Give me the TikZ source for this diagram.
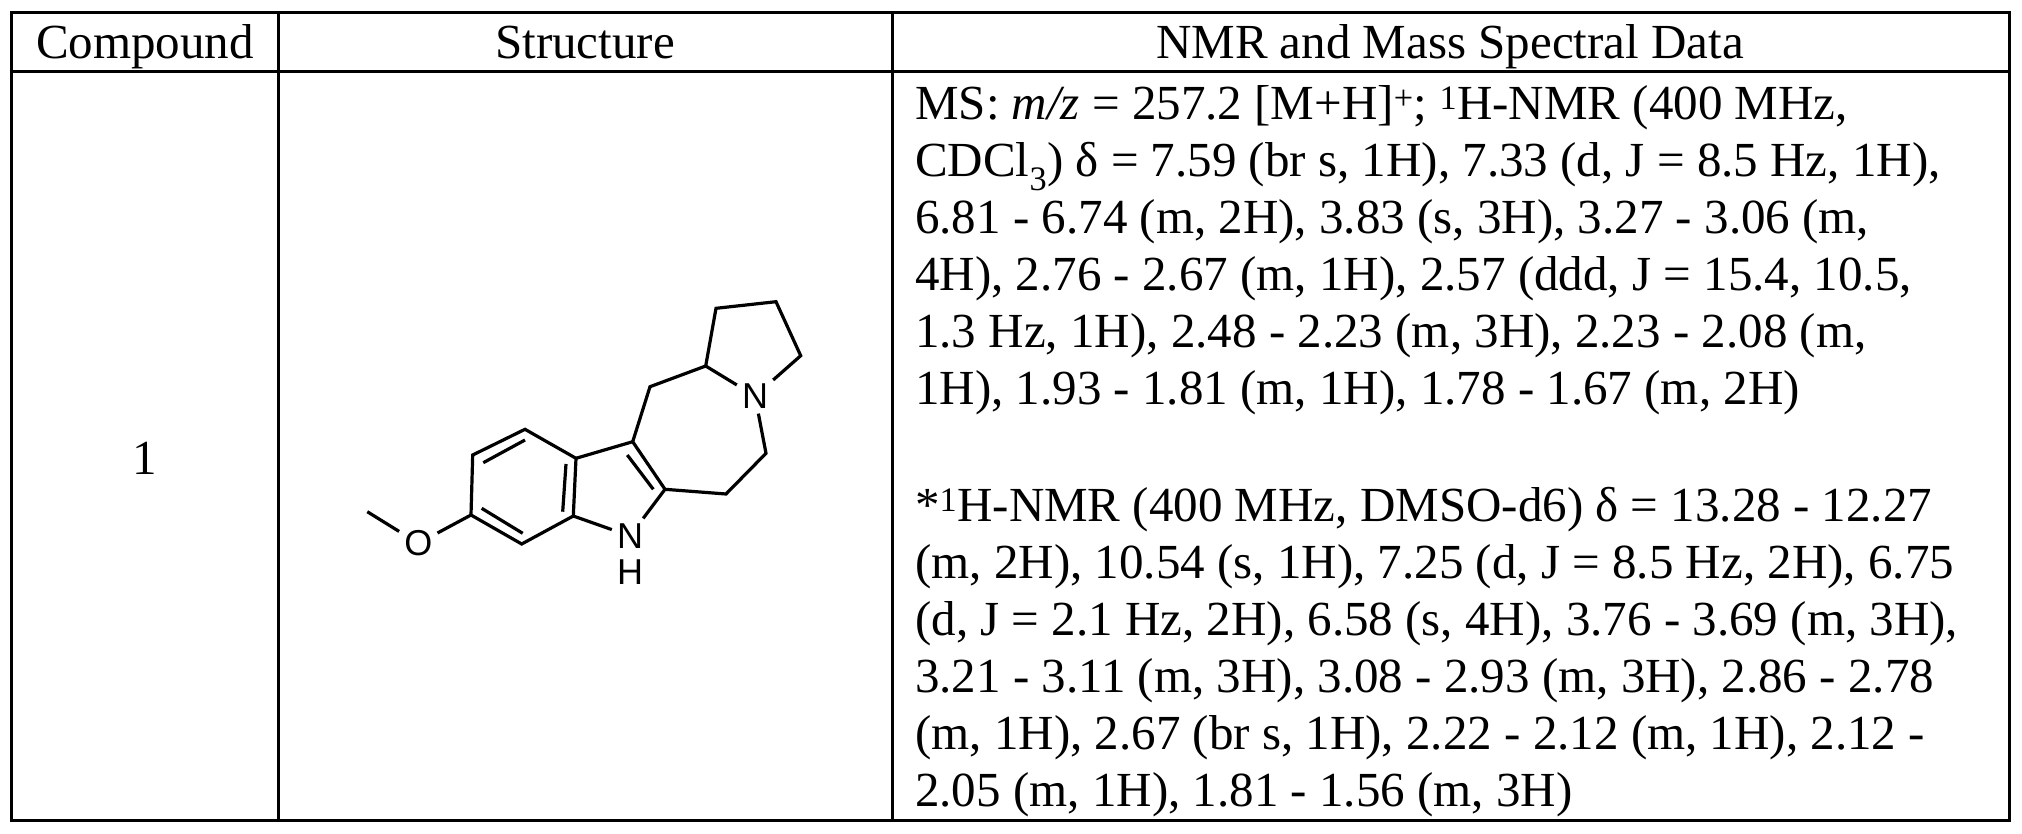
\documentclass[tikz,border=0pt]{standalone}
\usepackage{fontspec}
\setmainfont{Liberation Serif}
\newfontfamily\chemfont{Liberation Sans}
\tikzset{
  grid/.style={line width=3pt},
  bond/.style={line width=3.2pt},
  txt/.style={anchor=base west, inner sep=0pt, font=\fontsize{49}{57}\selectfont},
  hdr/.style={anchor=base, inner sep=0pt, font=\fontsize{49}{57}\selectfont},
  atom/.style={font=\chemfont\fontsize{36}{36}\selectfont, inner sep=5pt}
}
\begin{document}
\begin{tikzpicture}[x=1pt,y=-1pt]
\useasboundingbox (0,0) rectangle (2022,833);
% table
\draw[grid] (11.5,12) rectangle (2009,820);
\draw[grid] (11.5,71) -- (2009,71);
\draw[grid] (278,12) -- (278,820);
\draw[grid] (892,12) -- (892,820);
\node[hdr] (h1) at (145,58) {Compound};
\node[hdr] (h2) at (585,58) {Structure};
\node[hdr] (h3) at (1450,58) {NMR and Mass Spectral Data};
\node[hdr] (c1) at (145,474) {1};
% data
\node[txt] (l1) at (915,119) {MS: \textit{m/z} = 257.2 [M+H]\textsuperscript{+}; \textsuperscript{1}H-NMR (400 MHz,};
\node[txt] (l2) at (915,176) {CDCl\textsubscript{3}) δ = 7.59 (br s, 1H), 7.33 (d, J = 8.5 Hz, 1H),};
\node[txt] (l3) at (915,233) {6.81 - 6.74 (m, 2H), 3.83 (s, 3H), 3.27 - 3.06 (m,};
\node[txt] (l4) at (915,290) {4H), 2.76 - 2.67 (m, 1H), 2.57 (ddd, J = 15.4, 10.5,};
\node[txt] (l5) at (915,347) {1.3 Hz, 1H), 2.48 - 2.23 (m, 3H), 2.23 - 2.08 (m,};
\node[txt] (l6) at (915,404) {1H), 1.93 - 1.81 (m, 1H), 1.78 - 1.67 (m, 2H)};
\node[txt] (l8) at (915,521) {*\textsuperscript{1}H-NMR (400 MHz, DMSO-d6) δ = 13.28 - 12.27};
\node[txt] (l9) at (915,578) {(m, 2H), 10.54 (s, 1H), 7.25 (d, J = 8.5 Hz, 2H), 6.75};
\node[txt] (l10) at (915,635) {(d, J = 2.1 Hz, 2H), 6.58 (s, 4H), 3.76 - 3.69 (m, 3H),};
\node[txt] (l11) at (915,692) {3.21 - 3.11 (m, 3H), 3.08 - 2.93 (m, 3H), 2.86 - 2.78};
\node[txt] (l12) at (915,749) {(m, 1H), 2.67 (br s, 1H), 2.22 - 2.12 (m, 1H), 2.12 -};
\node[txt] (l13) at (915,806) {2.05 (m, 1H), 1.81 - 1.56 (m, 3H)};
% structure
\coordinate (me) at (367.3,511.7);
\node[atom] (O) at (418.3,543.3) {O};
\coordinate (a1) at (471,515);
\coordinate (a2) at (472.7,455);
\coordinate (a3) at (525,429.3);
\coordinate (a3a) at (576,458.3);
\coordinate (a7a) at (573.3,516);
\coordinate (a7) at (521.7,544);
\node[atom] (N1) at (630,536) {N};
\node[atom, inner sep=0pt] (H1) at (630,571.7) {H};
\coordinate (b2) at (665,489.3);
\coordinate (b3) at (632.7,441.7);
\coordinate (c1a) at (650,386.7);
\coordinate (ch) at (705.7,366);
\node[atom] (N2) at (755,396) {N};
\coordinate (c5) at (766,453.3);
\coordinate (c6) at (726,494);
\coordinate (p1) at (716,308.3);
\coordinate (p2) at (776,301.7);
\coordinate (p3) at (800.7,355.7);
\begin{scope}[bond, line join=miter]
\draw (me) -- (O) -- (a1);
\draw (a1) -- (a2) -- (a3) -- (a3a) -- (a7a) -- (a7) -- cycle;
\draw (a7a) -- (N1) -- (b2);
\draw (a3a) -- (b3) -- (b2) -- (c6) -- (c5) -- (N2) -- (ch) -- (c1a) -- (b3);
\draw (ch) -- (p1) -- (p2) -- (p3) -- (N2);
\draw (483.3,462.7) -- (525,440);
\draw (566,464) -- (562.7,511.7);
\draw (481.7,508.3) -- (522.7,533.3);
\draw (627.3,455) -- (653.3,489.3);
\end{scope}
\end{tikzpicture}
\end{document}
